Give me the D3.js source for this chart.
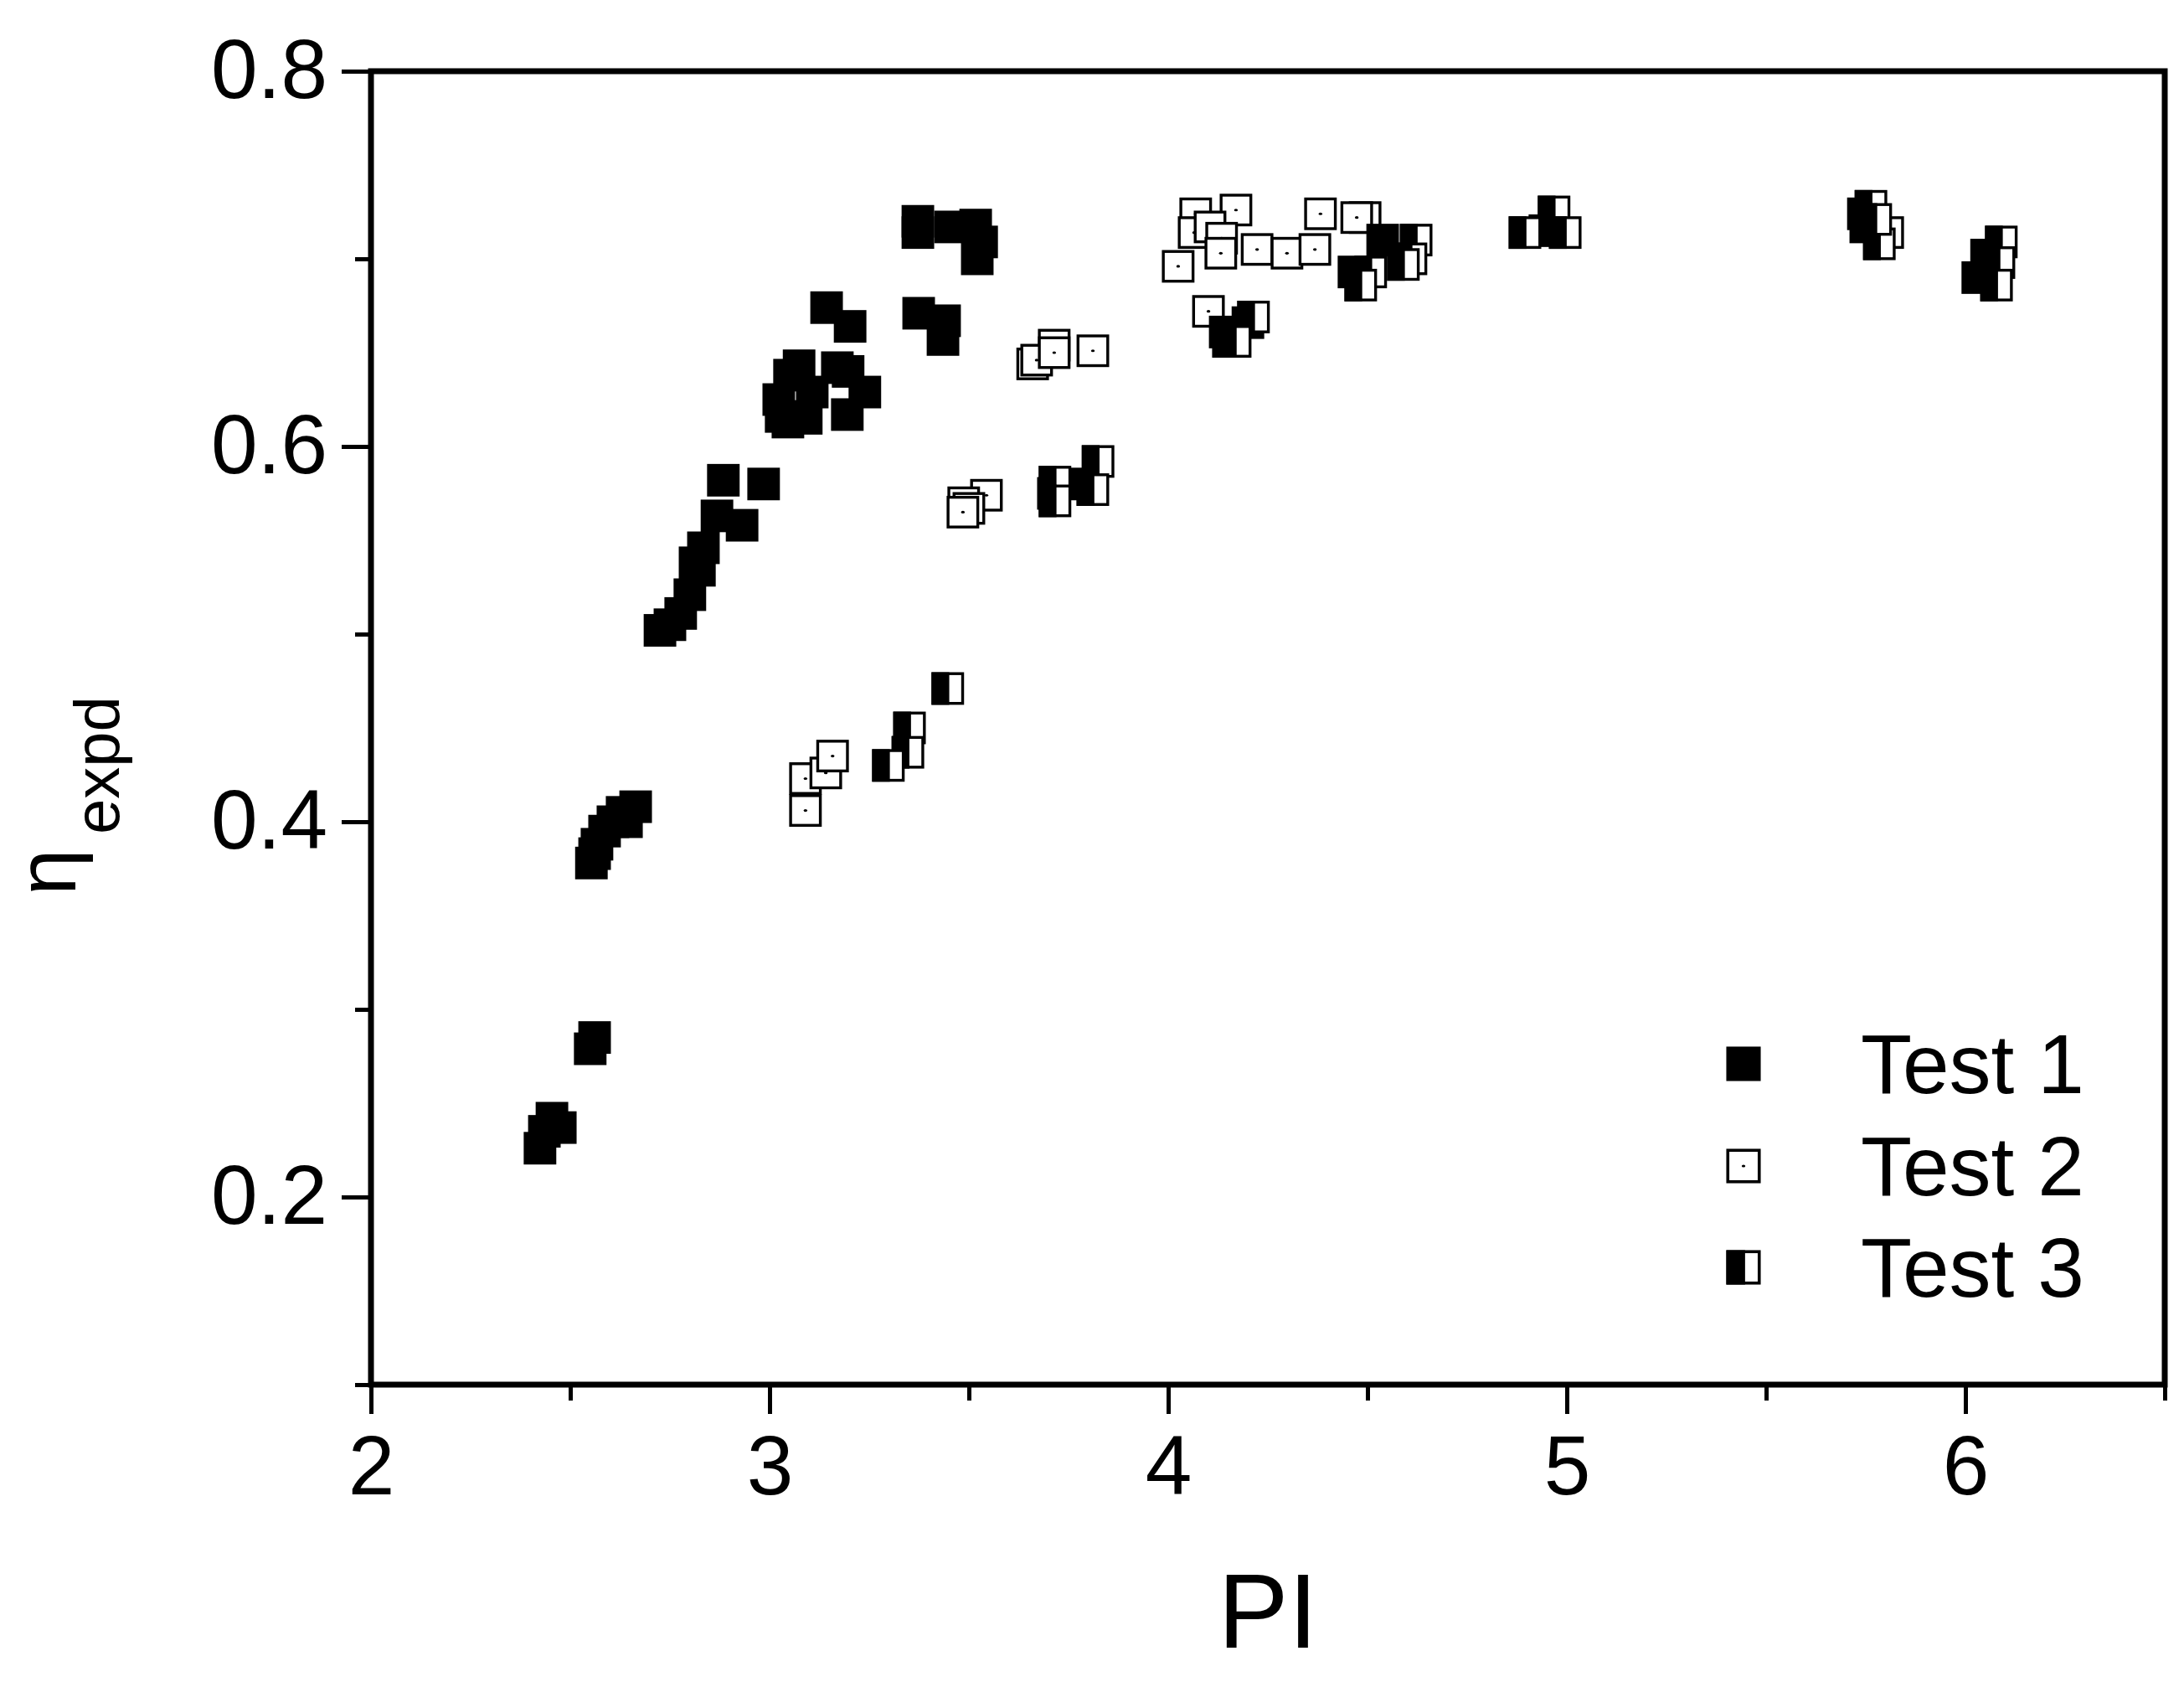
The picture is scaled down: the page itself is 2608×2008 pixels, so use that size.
<!DOCTYPE html>
<html>
<head>
<meta charset="utf-8">
<script src="https://cdn.jsdelivr.net/npm/d3@7"></script>
<style>
  html, body { margin: 0; padding: 0; background: #fff; }
  svg { display: block; }
  text { font-family: "Liberation Sans", Arial, sans-serif; fill: #000; }
</style>
</head>
<body>
<script>
// ---------- data (PI, eta_expd) ----------
const test1 = [
  [2.475,0.237],[2.454,0.242],[2.424,0.226],[2.435,0.235],
  [2.561,0.285],[2.550,0.279],
  [2.664,0.408],[2.630,0.405],[2.607,0.400],[2.586,0.395],[2.567,0.388],[2.553,0.378],[2.561,0.383],[2.641,0.400],
  [2.884,0.582],[2.985,0.580],[2.868,0.563],[2.931,0.558],[2.834,0.546],[2.824,0.534],[2.813,0.538],[2.800,0.521],[2.777,0.511],[2.750,0.505],[2.725,0.502],
  [3.074,0.643],[3.170,0.642],[3.197,0.640],[3.239,0.629],[3.050,0.638],[3.023,0.625],[3.029,0.616],[3.046,0.613],[3.092,0.615],[3.195,0.617],[3.107,0.629],
  [3.143,0.674],[3.202,0.664],
  [3.374,0.671],[3.439,0.667],[3.435,0.657],
  [3.372,0.720],[3.372,0.714],[3.454,0.717],[3.517,0.718],[3.532,0.709],[3.521,0.700],
  [3.786,0.580],[3.712,0.575],
  [4.143,0.661],[4.151,0.656],[4.200,0.666],
  [4.538,0.710],[4.466,0.693],
  [4.945,0.715],
  [5.750,0.717],[5.744,0.724],
  [6.031,0.690],[6.053,0.702]
];
const test2 = [
  [3.090,0.423],[3.141,0.426],[3.158,0.435],[3.090,0.406],
  [3.544,0.574],[3.487,0.570],[3.500,0.567],[3.485,0.565],
  [3.714,0.654],[3.811,0.651],[3.660,0.644],[3.670,0.646],[3.714,0.650],
  [4.170,0.726],[4.069,0.724],[4.065,0.714],[4.105,0.717],[4.134,0.711],[4.132,0.703],[4.025,0.696],
  [4.223,0.705],[4.298,0.703],[4.368,0.705],[4.382,0.724],[4.494,0.722],[4.473,0.722],[4.101,0.672]
];
const test3 = [
  [3.447,0.471],[3.351,0.450],[3.347,0.437],[3.298,0.430],
  [3.824,0.592],[3.811,0.577],[3.716,0.581],[3.716,0.571],
  [4.214,0.669],[4.168,0.656],
  [4.622,0.710],[4.609,0.700],[4.590,0.697],[4.508,0.693],[4.483,0.686],
  [4.968,0.725],[4.895,0.714],[4.996,0.714],
  [5.763,0.728],[5.805,0.714],[5.784,0.708],[5.775,0.721],
  [6.090,0.709],[6.084,0.698],[6.078,0.686]
];
const xMajor = [2, 3, 4, 5, 6];
const xMinor = [2.5, 3.5, 4.5, 5.5, 6.5];
const yMajor = [0.2, 0.4, 0.6, 0.8];
const yMinor = [0.1, 0.3, 0.5, 0.7];
const legendLabels = ["Test 1", "Test 2", "Test 3"];

// ---------- layout ----------
const W = 2608, H = 2008;
const L = 443, R = 2585, T = 85, B = 1653;

const svg = d3.select("body").append("svg").attr("width", W).attr("height", H);
svg.append("rect").attr("width", W).attr("height", H).attr("fill", "#fff");

const x = d3.scaleLinear().domain([2, 6.5]).range([L, R]);
const y = d3.scaleLinear().domain([0.1, 0.8]).range([B, T]);

// ---------- markers ----------
const S = 35.5, SW = 3.4;
function drawMarker(g, kind, size, sw) {
  const h = size / 2;
  if (kind === 1) {
    g.append("rect").attr("x", -h).attr("y", -h).attr("width", size).attr("height", size)
      .attr("fill", "#000").attr("stroke", "#000").attr("stroke-width", sw);
  } else if (kind === 2) {
    g.append("rect").attr("x", -h).attr("y", -h).attr("width", size).attr("height", size)
      .attr("fill", "#fff").attr("stroke", "#000").attr("stroke-width", sw);
    g.append("ellipse").attr("rx", 2.2).attr("ry", 1.6).attr("fill", "#000");
  } else {
    g.append("rect").attr("x", -h).attr("y", -h).attr("width", size).attr("height", size)
      .attr("fill", "#fff").attr("stroke", "#000").attr("stroke-width", sw);
    g.append("rect").attr("x", -h - sw / 2).attr("y", -h - sw / 2)
      .attr("width", h + sw / 2 + size * 0.05).attr("height", size + sw).attr("fill", "#000");
  }
}

const plot = svg.append("g");
[[test2, 2], [test1, 1], [test3, 3]].forEach(([data, kind]) => {
  plot.append("g").selectAll("g").data(data).join("g")
    .attr("transform", d => `translate(${x(d[0])},${y(d[1])})`)
    .each(function () { drawMarker(d3.select(this), kind, S, SW); });
});

// ---------- axes ----------
const axisStyle = g => {
  g.select(".domain").remove();
  g.selectAll("line").attr("stroke", "#000").attr("stroke-width", 5);
};
svg.append("g").attr("transform", `translate(0,${B})`)
  .call(d3.axisBottom(x).tickValues(xMajor).tickSize(35).tickFormat(d3.format("d")))
  .call(axisStyle)
  .call(g => g.selectAll("text").attr("y", 131).attr("dy", 0)
      .attr("font-size", 100).attr("font-family", '"Liberation Sans", Arial, sans-serif').attr("fill", "#000"));
svg.append("g").attr("transform", `translate(0,${B})`)
  .call(d3.axisBottom(x).tickValues(xMinor).tickSize(19).tickFormat(""))
  .call(axisStyle);
svg.append("g").attr("transform", `translate(${L},0)`)
  .call(d3.axisLeft(y).tickValues(yMajor).tickSize(35).tickFormat(d3.format(".1f")))
  .call(axisStyle)
  .call(g => g.selectAll("text").attr("x", -52).attr("dy", 31)
      .attr("font-size", 100).attr("font-family", '"Liberation Sans", Arial, sans-serif').attr("fill", "#000"));
svg.append("g").attr("transform", `translate(${L},0)`)
  .call(d3.axisLeft(y).tickValues(yMinor).tickSize(19).tickFormat(""))
  .call(axisStyle);

// frame
svg.append("rect").attr("x", L).attr("y", T).attr("width", R - L).attr("height", B - T)
  .attr("fill", "none").attr("stroke", "#000").attr("stroke-width", 7);

// ---------- titles ----------
svg.append("text").attr("x", (L + R) / 2).attr("y", 1967).attr("text-anchor", "middle")
  .attr("font-size", 126).text("PI");
svg.append("text").attr("transform", "translate(90,1069) rotate(-90)")
  .attr("font-size", 100).text("η");
svg.append("text").attr("transform", "translate(142,996) rotate(-90)")
  .attr("font-size", 76).text("expd");

// ---------- legend ----------
const lg = svg.append("g");
const legendY = [1270, 1392, 1513];
legendLabels.forEach((lab, i) => {
  const g = lg.append("g").attr("transform", `translate(2082,${legendY[i]})`);
  drawMarker(g, i + 1, 37.5, 3.6);
  lg.append("text").attr("x", 2222).attr("y", legendY[i] + 35).attr("font-size", 100).text(lab);
});
</script>
</body>
</html>
